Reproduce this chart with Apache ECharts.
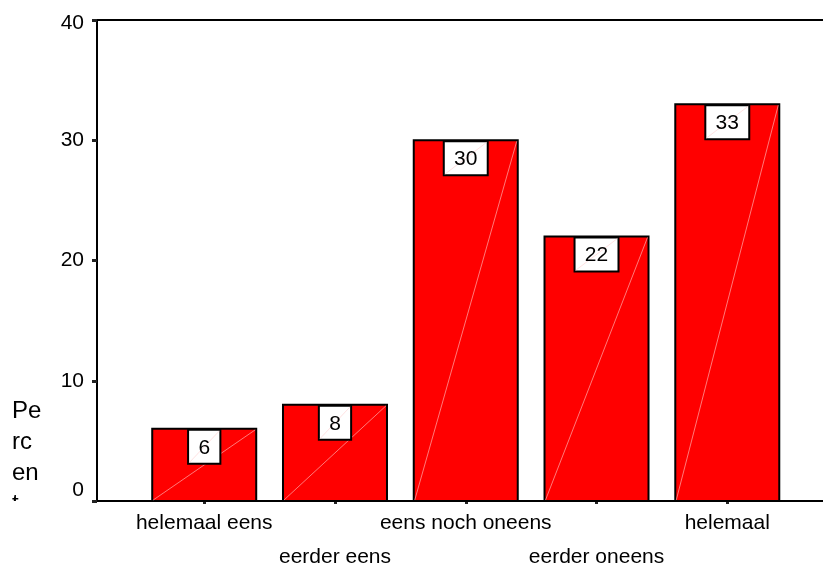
<!DOCTYPE html>
<html>
<head>
<meta charset="utf-8">
<script src="https://cdn.jsdelivr.net/npm/echarts@6/dist/echarts.min.js"></script>
<style>
  html, body { margin: 0; padding: 0; background: #fff; }
  #chart { width: 823px; height: 566px; }
</style>
</head>
<body>
<div id="chart"></div>
<script>
// Answer categories along the x axis
const categories = ['helemaal eens', 'eerder eens', 'eens noch oneens', 'eerder oneens', 'helemaal'];
// Percent of respondents per answer
const percentages = [6, 8, 30, 22, 33];
// Y axis range and step
const yMin = 0;
const yMax = 40;
const yStep = 10;

const FONT = '"Liberation Sans", Arial, sans-serif';
const FONT_SIZE = 21;
const BAR_WIDTH = 104;
const DIGIT_W = FONT_SIZE * 0.556;   // width of one digit
const BOX_PAD_X = 10.3;
const BOX_H = 34;

function renderBar(params, api) {
  const idx = api.value(0);
  const val = api.value(1);
  const top = api.coord([idx, val]);
  const base = api.coord([idx, 0]);
  const cx = top[0];
  const x0 = cx - BAR_WIDTH / 2;
  const h = base[1] - top[1];
  const text = String(Math.round(val));
  const bw = text.length * DIGIT_W + BOX_PAD_X * 2;
  const bx = cx - bw / 2;
  const by = top[1] + 1;
  const diag = { stroke: 'rgba(255,205,205,0.85)', lineWidth: 0.7 };
  return {
    type: 'group',
    children: [
      { type: 'rect', shape: { x: x0, y: top[1], width: BAR_WIDTH, height: h },
        style: { fill: '#ff0000', stroke: '#000', lineWidth: 2 } },
      { type: 'line', shape: { x1: x0 + 1, y1: base[1] - 1, x2: x0 + BAR_WIDTH - 1, y2: top[1] + 1 },
        style: diag },
      { type: 'rect', shape: { x: bx, y: by, width: bw, height: BOX_H },
        style: { fill: '#fff', stroke: '#000', lineWidth: 2 } },
      { type: 'line', shape: { x1: bx + 1, y1: by + BOX_H - 1, x2: bx + bw - 1, y2: by + 1 },
        style: diag },
      { type: 'text',
        style: { text: text, x: cx, y: by + BOX_H / 2 + 1,
                 align: 'center', verticalAlign: 'middle',
                 textAlign: 'center', textVerticalAlign: 'middle',
                 fill: '#000', fontSize: FONT_SIZE, fontFamily: FONT } }
    ]
  };
}

const chart = echarts.init(document.getElementById('chart'), null, { renderer: 'canvas' });
chart.setOption({
  backgroundColor: '#fff',
  animation: false,
  grid: { left: 97, right: 0, top: 20, bottom: 65, outerBoundsMode: 'none', containLabel: false },
  xAxis: [
    {
      type: 'value',
      min: -0.82,
      max: 4.732,
      splitLine: { show: false },
      axisLine: { show: true, onZero: false, lineStyle: { color: '#000', width: 2 } },
      axisTick: { show: true, customValues: [0, 1, 2, 3, 4], length: 3, lineStyle: { color: '#222', width: 3 } },
      axisLabel: {
        show: true,
        customValues: [0, 1, 2, 3, 4],
        formatter: function (v) {
          const i = Math.round(v);
          return i % 2 === 1 ? '\n' + categories[i] : categories[i];
        },
        color: '#000',
        fontSize: FONT_SIZE,
        fontFamily: FONT,
        lineHeight: 34,
        margin: 5,
        hideOverlap: false
      }
    },
    {
      type: 'value',
      position: 'top',
      min: -0.82,
      max: 4.732,
      splitLine: { show: false },
      axisLine: { show: true, onZero: false, lineStyle: { color: '#000', width: 2 } },
      axisTick: { show: false },
      axisLabel: { show: false }
    }
  ],
  yAxis: {
    type: 'value',
    min: yMin,
    max: yMax,
    interval: yStep,
    splitLine: { show: false },
    axisLine: { show: true, onZero: false, lineStyle: { color: '#000', width: 2 } },
    axisTick: { show: true, length: 5, lineStyle: { color: '#222', width: 3 } },
    axisLabel: {
      color: '#000', fontSize: FONT_SIZE, fontFamily: FONT, margin: 13,
      verticalAlignMinLabel: 'bottom',
      formatter: function (v) { return v === yMax ? '{mx|' + v + '}' : String(v); },
      rich: { mx: { fontSize: FONT_SIZE, fontFamily: FONT, color: '#000', padding: [6, 0, 0, 0] } }
    }
  },
  series: [{
    type: 'custom',
    xAxisIndex: 0,
    yAxisIndex: 0,
    renderItem: renderBar,
    encode: { x: 0, y: 1 },
    data: percentages.map((v, i) => [i, v]),
    z: 3
  }],
  graphic: [
    { type: 'text', left: 12, top: 396,
      style: { text: 'Pe\nrc\nen\nt', fill: '#000', fontSize: 24, fontFamily: FONT, lineHeight: 31 },
      z: 1 },
    { type: 'rect', left: 0, top: 501, shape: { width: 90, height: 65 },
      style: { fill: '#fff' }, z: 2 }
  ]
});
</script>
</body>
</html>
